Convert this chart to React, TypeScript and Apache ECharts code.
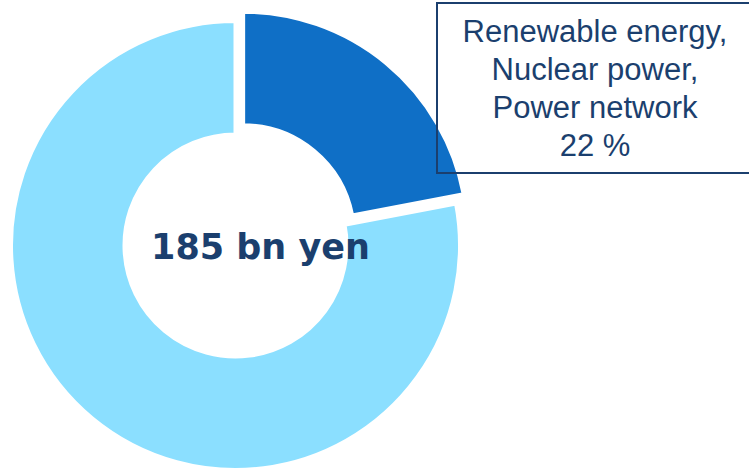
import React, { useEffect, useRef } from "react";
import * as echarts from "echarts";

const categories = ["Renewable energy, Nuclear power, Power network", "Other"];
const values = [22, 78];
const colors = ["#0F6FC6", "#8BDFFF"];
const centerLabel = "185 bn yen";
const boxLines = ["Renewable energy,", "Nuclear power,", "Power network", "22 %"];

export default function App() {
  const ref = useRef<HTMLDivElement>(null);
  useEffect(() => {
    document.body.style.margin = "0";
    const chart = echarts.init(ref.current!, null, { renderer: "svg" });
    const navy = "#1B3F6E";
    chart.setOption({
      animation: false,
      series: [
        {
          type: "pie",
          center: [235.5, 245.5],
          radius: [111, 224.5],
          startAngle: 90,
          clockwise: true,
          selectedMode: "single",
          selectedOffset: 12,
          silent: true,
          label: { show: false },
          labelLine: { show: false },
          emphasis: { disabled: true },
          itemStyle: { borderColor: "#ffffff", borderWidth: 4 },
          data: categories.map((name, i) => ({
            name,
            value: values[i],
            selected: i === 0,
            itemStyle: { color: colors[i] },
            select: { itemStyle: { color: colors[i] } },
          })),
        },
      ],
      graphic: [
        {
          type: "text",
          left: null,
          x: 260.5,
          y: 247,
          style: {
            text: centerLabel,
            fill: navy,
            font: "bold 35px 'DejaVu Sans', Verdana, sans-serif",
            align: "center",
            verticalAlign: "middle",
          },
          z: 10,
        },
        {
          type: "rect",
          shape: { x: 437, y: 3, width: 330, height: 170 },
          style: { fill: "transparent", stroke: navy, lineWidth: 2 },
          z: 10,
        },
        {
          type: "text",
          x: 595,
          y: 88,
          style: {
            text: boxLines.join("\n"),
            fill: navy,
            font: "31px 'Liberation Sans', Arial, sans-serif",
            lineHeight: 38,
            align: "center",
            verticalAlign: "middle",
          },
          z: 10,
        },
      ],
    });
    return () => chart.dispose();
  }, []);
  return <div ref={ref} style={{ width: 749, height: 471 }} />;
}
